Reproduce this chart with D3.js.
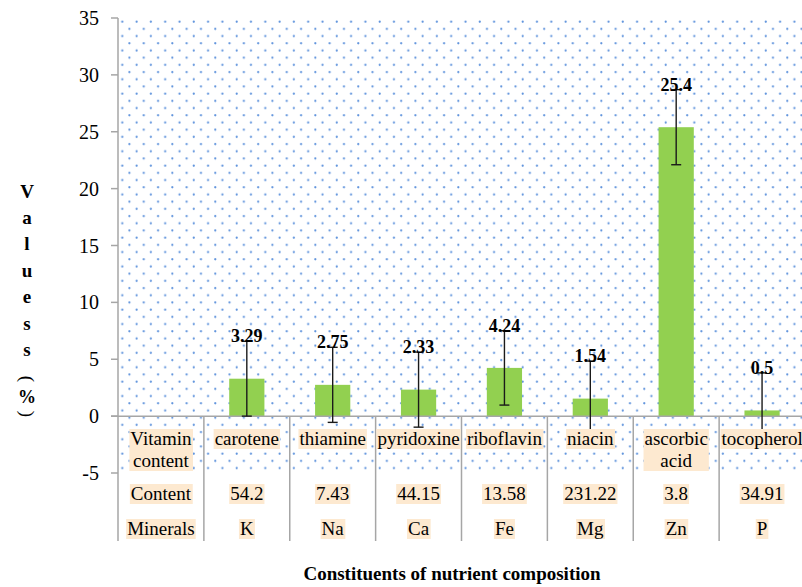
<!DOCTYPE html>
<html>
<head>
<meta charset="utf-8">
<script src="https://cdn.jsdelivr.net/npm/d3@7"></script>
<style>
  body { margin: 0; background: #fff; }
  svg text { font-family: "Liberation Serif", "Times New Roman", serif; fill: #000; }
</style>
</head>
<body>
<div id="viz"></div>
<script>
const rowHeaders = ["Vitamin content", "Content", "Minerals"];
const vitamins = ["carotene", "thiamine", "pyridoxine", "riboflavin", "niacin", "ascorbic acid", "tocopherol"];
const values = [3.29, 2.75, 2.33, 4.24, 1.54, 25.4, 0.5];
const errors = [3.29, 3.3, 3.3, 3.27, 3.3, 3.3, 3.3];
const contents = ["54.2", "7.43", "44.15", "13.58", "231.22", "3.8", "34.91"];
const minerals = ["K", "Na", "Ca", "Fe", "Mg", "Zn", "P"];
const yTicks = [35, 30, 25, 20, 15, 10, 5, 0, -5];

const width = 802, height = 587;
const plotL = 118, plotR = 805, plotT = 18, plotB = 473, tableB = 541;

const svg = d3.select("#viz").append("svg")
    .attr("width", width)
    .attr("height", height)
    .attr("font-family", "Liberation Serif, Times New Roman, serif");

const cols = ["header"].concat(vitamins);
const x = d3.scaleBand().domain(cols).range([plotL, plotR]).padding(0);
const y = d3.scaleLinear().domain([-5, 35]).range([plotB, plotT]);

// dotted background (excel style pattern)
const defs = svg.append("defs");
const pat = defs.append("pattern")
    .attr("id", "dots")
    .attr("patternUnits", "userSpaceOnUse")
    .attr("x", 118.7).attr("y", 18.1)
    .attr("width", 14.3).attr("height", 14.4);
pat.append("circle").attr("cx", 3.6).attr("cy", 3.6).attr("r", 1.1).attr("fill", "#5f93dc");
pat.append("circle").attr("cx", 10.75).attr("cy", 10.8).attr("r", 1.1).attr("fill", "#5f93dc");

svg.append("rect")
    .attr("x", plotL).attr("y", plotT)
    .attr("width", plotR - plotL).attr("height", plotB - plotT)
    .attr("fill", "url(#dots)");

// bars
const bw = x.bandwidth() * 0.41;
svg.selectAll(".bar").data(vitamins).enter().append("rect")
    .attr("class", "bar")
    .attr("x", d => x(d) + x.bandwidth() / 2 - bw / 2)
    .attr("y", (d, i) => y(values[i]))
    .attr("width", bw)
    .attr("height", (d, i) => y(0) - y(values[i]))
    .attr("fill", "#92d050");

// zero line + separators
svg.append("line")
    .attr("x1", plotL - 7).attr("x2", plotR)
    .attr("y1", y(0)).attr("y2", y(0))
    .attr("stroke", "#a6a6a6").attr("stroke-width", 1.5);

svg.selectAll(".sep").data(vitamins).enter().append("line")
    .attr("x1", d => x(d)).attr("x2", d => x(d))
    .attr("y1", y(0)).attr("y2", tableB)
    .attr("stroke", "#a6a6a6").attr("stroke-width", 1.5);

// y axis
svg.append("line")
    .attr("x1", plotL).attr("x2", plotL)
    .attr("y1", plotT).attr("y2", tableB)
    .attr("stroke", "#a6a6a6").attr("stroke-width", 1.5);

svg.selectAll(".tick").data(yTicks).enter().append("line")
    .attr("x1", plotL - 7).attr("x2", plotL)
    .attr("y1", d => y(d)).attr("y2", d => y(d))
    .attr("stroke", "#a6a6a6").attr("stroke-width", 1.5);

svg.selectAll(".tlab").data(yTicks).enter().append("text")
    .attr("x", 99).attr("y", d => y(d))
    .attr("dy", "0.35em")
    .attr("text-anchor", "end")
    .attr("font-size", "20px")
    .text(d => d);

// error bars
const eb = svg.append("g").attr("stroke", "#1a1a1a").attr("stroke-width", 1.4);
vitamins.forEach((v, i) => {
    const cx = x(v) + x.bandwidth() / 2;
    const y1 = y(values[i] + errors[i]), y2 = y(values[i] - errors[i]);
    eb.append("line").attr("x1", cx).attr("x2", cx).attr("y1", y1).attr("y2", y2);
    eb.append("line").attr("x1", cx - 5).attr("x2", cx + 5).attr("y1", y1).attr("y2", y1);
    eb.append("line").attr("x1", cx - 5).attr("x2", cx + 5).attr("y1", y2).attr("y2", y2);
});

// boxed labels helper
function boxText(g, cx, lines, baseY, lineH) {
    const grp = g.append("g");
    const rect = grp.append("rect").attr("fill", "#fde9d0");
    const t = grp.append("text")
        .attr("text-anchor", "middle")
        .attr("font-size", "19px");
    lines.forEach((ln, k) => {
        t.append("tspan").attr("x", cx).attr("y", baseY + k * lineH).text(ln);
    });
    const bb = t.node().getBBox();
    rect.attr("x", bb.x - 1).attr("y", bb.y + 1)
        .attr("width", bb.width + 2).attr("height", bb.height - 1);
}

const table = svg.append("g");
const hx = x("header") + x.bandwidth() / 2;
boxText(table, hx, rowHeaders[0].split(" "), 445, 22);
boxText(table, hx, [rowHeaders[1]], 500, 22);
boxText(table, hx, [rowHeaders[2]], 535, 22);

vitamins.forEach((v, i) => {
    const cx = x(v) + x.bandwidth() / 2;
    boxText(table, cx, v.split(" "), 445, 22);
    boxText(table, cx, [contents[i]], 500, 22);
    boxText(table, cx, [minerals[i]], 535, 22);
});

// value labels
svg.selectAll(".vlab").data(vitamins).enter().append("text")
    .attr("x", d => x(d) + x.bandwidth() / 2)
    .attr("y", (d, i) => y(values[i] + errors[i]) + 1)
    .attr("text-anchor", "middle")
    .attr("font-size", "18px")
    .attr("font-weight", "bold")
    .text((d, i) => values[i]);

// axis titles
svg.append("text")
    .attr("x", 452).attr("y", 580)
    .attr("text-anchor", "middle")
    .attr("font-size", "19px")
    .attr("font-weight", "bold")
    .text("Constituents of nutrient composition");

const yTitle = "Valuess".split("");
const yt = svg.append("g").attr("font-weight", "bold").attr("font-size", "19px");
yTitle.forEach((c, k) => {
    yt.append("text")
        .attr("x", 27).attr("y", 191 + k * 26.4)
        .attr("dy", "0.35em")
        .attr("text-anchor", "middle")
        .text(c);
});
// rotated parentheses, stacked like the reference
yt.append("text")
    .attr("transform", "translate(27,379) rotate(90)")
    .attr("text-anchor", "middle")
    .attr("dominant-baseline", "central")
    .attr("font-weight", "normal")
    .text("(");
yt.append("text").attr("x", 27).attr("y", 397).attr("dy", "0.35em")
    .attr("text-anchor", "middle").attr("font-size", "18px").text("%");
yt.append("text")
    .attr("transform", "translate(27,414) rotate(90)")
    .attr("text-anchor", "middle")
    .attr("dominant-baseline", "central")
    .attr("font-weight", "normal")
    .text(")");
</script>
</body>
</html>
